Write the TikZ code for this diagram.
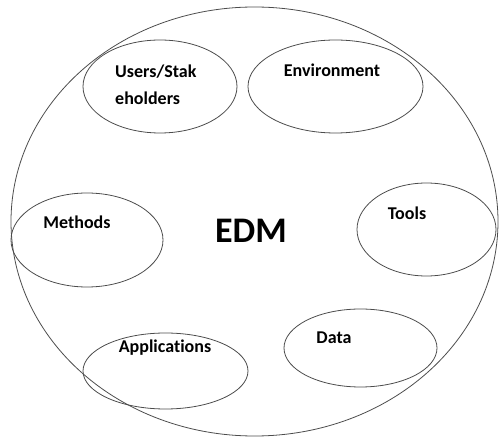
\documentclass[tikz,border=0pt]{standalone}
\usepackage{fontspec}
\setmainfont{Carlito}[Ligatures=NoCommon]
\usetikzlibrary{shapes.geometric}

\begin{document}
\begin{tikzpicture}[
        x=1pt, y=-1pt,
        area/.style={
            draw=black!70,
            ellipse,
            line width=0.8pt,
            inner sep=0pt
        },
        arealabel/.style={
            font=\fontsize{18}{27}\selectfont\bfseries,
            align=left,
            inner sep=0pt
        }
    ]
        \useasboundingbox (0,0) rectangle (499,438);

        % the whole field
        \node[area, minimum width=487pt, minimum height=429pt] (edm) at (254.5,221.5) {};
        \node[anchor=base, inner sep=0pt, font=\fontsize{36}{40}\selectfont\bfseries] (edmlabel) at (251,243) {EDM};

        % its parts
        \node[area, minimum width=154pt, minimum height=93pt] (users) at (160,86.5) {};
        \node[area, minimum width=175pt, minimum height=93pt] (environment) at (335.5,86.5) {};
        \node[area, minimum width=152pt, minimum height=94pt] (methods) at (87,240) {};
        \node[area, minimum width=139pt, minimum height=93pt] (tools) at (426.5,229.5) {};
        \node[area, minimum width=165pt, minimum height=76pt] (applications) at (165.5,371) {};
        \node[area, minimum width=153pt, minimum height=78pt] (data) at (360.5,348) {};

        % multi-line text sits on the baseline of its last line
        \node[arealabel, anchor=base west] (userslabel) at (115,105) {Users/Stak\\eholders};
        \node[arealabel, anchor=base] (environmentlabel) at (332,77) {Environment};
        \node[arealabel, anchor=base] (methodslabel) at (77,229) {Methods};
        \node[arealabel, anchor=base] (toolslabel) at (407,220) {Tools};
        \node[arealabel, anchor=base] (applicationslabel) at (165,353) {Applications};
        \node[arealabel, anchor=base] (datalabel) at (334,344) {Data};
    \end{tikzpicture}
\end{document}
